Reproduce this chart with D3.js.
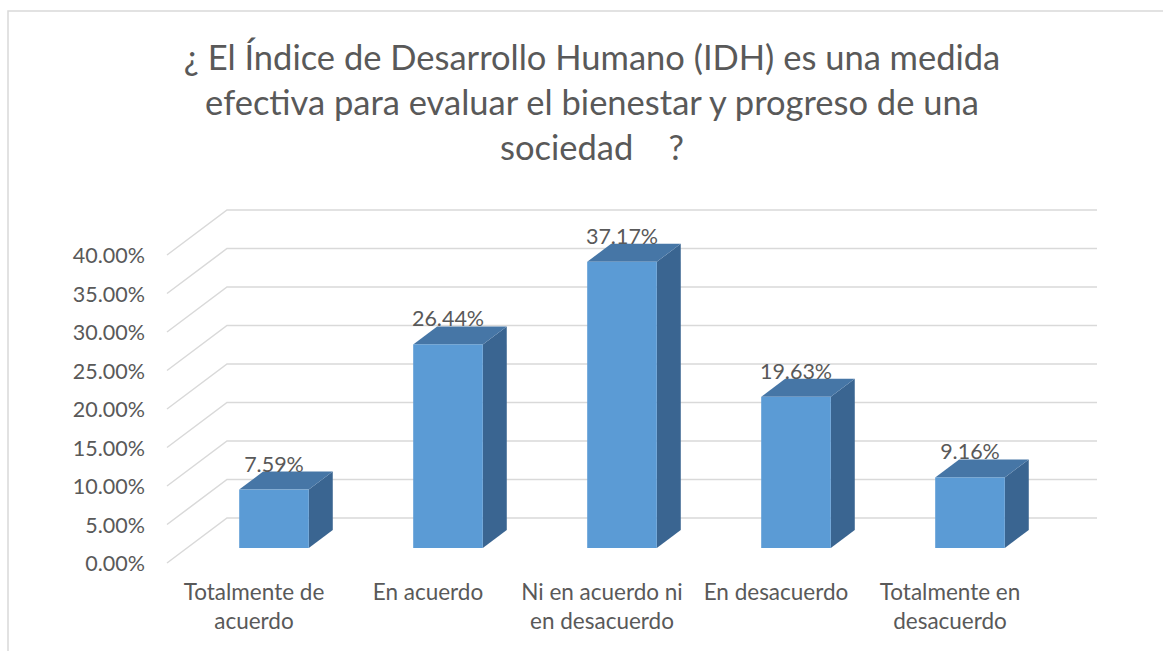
<!DOCTYPE html>
<html>
<head>
<meta charset="utf-8">
<script src="https://cdn.jsdelivr.net/npm/d3@7"></script>
<style>
  html, body { margin: 0; padding: 0; background: #fff; }
  svg { display: block; }
  text { font-family: Lato, "Open Sans", sans-serif; fill: #595959; }
</style>
</head>
<body>
<div id="chart"></div>
<script>
// data
var categories = ["Totalmente de acuerdo", "En acuerdo", "Ni en acuerdo ni en desacuerdo", "En desacuerdo", "Totalmente en desacuerdo"];
var categoryLines = [["Totalmente de", "acuerdo"], ["En acuerdo"], ["Ni en acuerdo ni", "en desacuerdo"], ["En desacuerdo"], ["Totalmente en", "desacuerdo"]];
var values = [7.59, 26.44, 37.17, 19.63, 9.16];
var tickValues = [0, 5, 10, 15, 20, 25, 30, 35, 40];
var titleLines = ["¿ El Índice de Desarrollo Humano (IDH) es una medida",
                  "efectiva para evaluar el bienestar y progreso de una",
                  "sociedad    ?"];

(function() {
  var width = 1163,
      height = 651;

  var svg = d3.select("#chart").append("svg")
              .attr("width", width)
              .attr("height", height);

  // chart area border
  svg.append("rect")
     .attr("x", 8).attr("y", 11)
     .attr("width", 1200).attr("height", 700)
     .attr("fill", "none")
     .attr("stroke", "#d9d9d9")
     .attr("stroke-width", 1.5);

  // title
  svg.append("g").selectAll("text")
     .data(titleLines)
     .join("text")
     .attr("x", 592)
     .attr("y", (d, i) => 70 + i * 45)
     .attr("text-anchor", "middle")
     .style("font-size", "34.5px")
     .style("white-space", "pre")
     .text(d => d);

  // oblique 3d projection: depth 0 = front of floor, 1 = back wall
  var floorY = 563;
  var depthX = d3.scaleLinear().domain([0, 1]).range([0, 60]);
  var depthY = d3.scaleLinear().domain([0, 1]).range([0, -45]);
  var y = d3.scaleLinear().domain([0, 40]).range([0, 308]);
  var x = d3.scaleBand().domain(categories).range([167, 1037]);

  // gridlines: slanted floor-to-wall part then along the back wall
  var grid = svg.append("g");
  grid.selectAll("path")
      .data(tickValues)
      .join("path")
      .attr("d", v => {
        var y0 = floorY - y(v);
        return "M" + x.range()[0] + "," + y0 +
               "L" + (x.range()[0] + depthX(1)) + "," + (y0 + depthY(1)) +
               "L" + (x.range()[1] + depthX(1)) + "," + (y0 + depthY(1));
      })
      .attr("fill", "none")
      .attr("stroke", "#d9d9d9")
      .attr("stroke-width", 1.5);

  // y axis labels
  var pct = d3.format(".2%");
  svg.append("g").selectAll("text")
     .data(tickValues)
     .join("text")
     .attr("x", 145)
     .attr("y", v => floorY - y(v) + 8)
     .attr("text-anchor", "end")
     .style("font-size", "21.5px")
     .text(v => pct(v / 100));

  // bars
  var d0 = 1 / 3, d1 = 0.733;
  var bw = x.bandwidth() * 0.4;
  var bars = svg.append("g").selectAll("g")
                .data(values)
                .join("g");

  function geo(v, i) {
    var cx = x(categories[i]) + x.bandwidth() / 2 + depthX(d0);
    var yb = floorY + depthY(d0);
    return {
      xl: cx - bw / 2, xr: cx + bw / 2, yb: yb, yt: yb - y(v),
      dx: depthX(d1) - depthX(d0), dy: depthY(d1) - depthY(d0), cx: cx
    };
  }

  // side face
  bars.append("path")
      .attr("d", (v, i) => {
        var g = geo(v, i);
        return "M" + g.xr + "," + g.yt + "L" + (g.xr + g.dx) + "," + (g.yt + g.dy) +
               "L" + (g.xr + g.dx) + "," + (g.yb + g.dy) + "L" + g.xr + "," + g.yb + "Z";
      })
      .attr("fill", "#3a6591");

  // top face
  bars.append("path")
      .attr("d", (v, i) => {
        var g = geo(v, i);
        return "M" + g.xl + "," + g.yt + "L" + g.xr + "," + g.yt +
               "L" + (g.xr + g.dx) + "," + (g.yt + g.dy) + "L" + (g.xl + g.dx) + "," + (g.yt + g.dy) + "Z";
      })
      .attr("fill", "#4676a6");

  // front face
  bars.append("rect")
      .attr("x", (v, i) => geo(v, i).xl)
      .attr("y", (v, i) => geo(v, i).yt)
      .attr("width", bw)
      .attr("height", v => y(v))
      .attr("fill", "#5b9bd5");

  // data labels
  bars.append("text")
      .attr("x", (v, i) => geo(v, i).cx)
      .attr("y", (v, i) => geo(v, i).yt + geo(v, i).dy)
      .attr("text-anchor", "middle")
      .style("font-size", "21.5px")
      .text(v => v.toFixed(2) + "%");

  // category labels
  svg.append("g").selectAll("text")
     .data(categoryLines)
     .join("text")
     .attr("text-anchor", "middle")
     .style("font-size", "22.5px")
     .each(function(lines, i) {
       var cx = x(categories[i]) + x.bandwidth() / 2;
       d3.select(this).selectAll("tspan")
         .data(lines)
         .join("tspan")
         .attr("x", cx)
         .attr("y", (d, j) => 600 + j * 29)
         .text(d => d);
     });
})();
</script>
</body>
</html>
